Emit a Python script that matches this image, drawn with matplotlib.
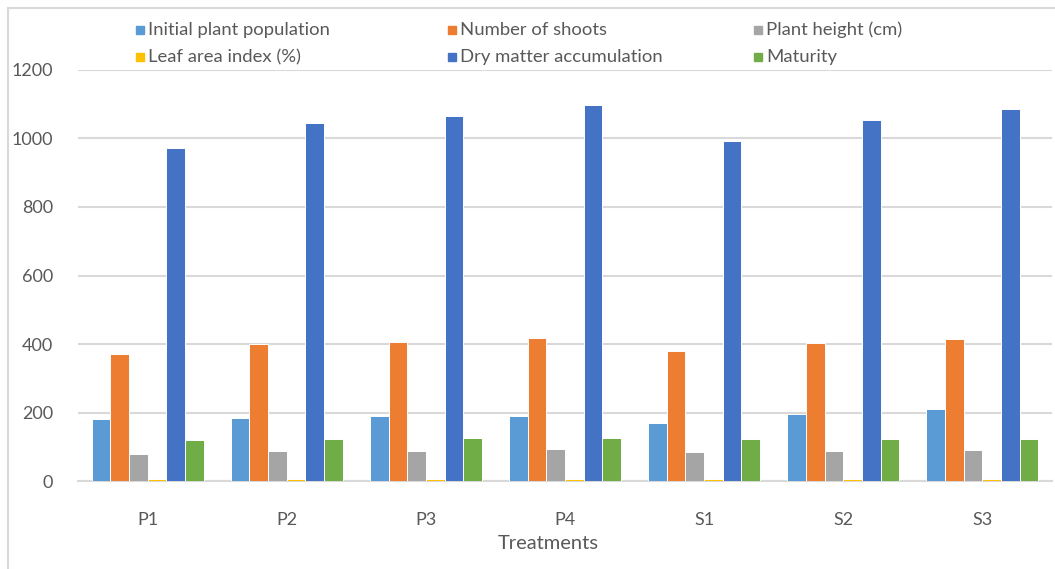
"""Bar chart of growth parameters per treatment."""

import numpy as np
import matplotlib.pyplot as plt
from matplotlib.patches import Rectangle

treatments = ["P1", "P2", "P3", "P4", "S1", "S2", "S3"]

initial_plant_population = [182, 186, 190, 190, 171, 195, 210]
number_of_shoots = [371, 399, 406, 418, 379, 403, 414]
plant_height = [81, 87, 89, 93, 84, 87, 90]
leaf_area_index = [6.2, 6.5, 6.6, 6.8, 6.3, 6.6, 6.7]
dry_matter = [972, 1044, 1065, 1097, 991, 1053, 1085]
maturity = [119, 123, 125, 126, 123, 123, 123]

series_names = [
    "Initial plant population",
    "Number of shoots",
    "Plant height (cm)",
    "Leaf area index (%)",
    "Dry matter accumulation",
    "Maturity",
]
series = [initial_plant_population, number_of_shoots, plant_height,
          leaf_area_index, dry_matter, maturity]
colors = ["#5B9BD5", "#ED7D31", "#A5A5A5", "#FFC000", "#4472C4", "#70AD47"]

FONT = "Lato"
TEXT = "#595959"

W, H = 1055, 569
fig = plt.figure(figsize=(W / 100, H / 100), dpi=100)
ax = fig.add_axes([78 / W, 1 - 481.3 / H, (1052 - 78) / W, (481.3 - 69.7) / H])

x = np.arange(len(treatments))
step = 0.134
for i, (name, vals, c) in enumerate(zip(series_names, series, colors)):
    offset = (i - 2.5) * step
    ax.bar(x + offset, vals, width=step, color=c, edgecolor="white",
           linewidth=0.7, label=name, zorder=3)

ax.set_xlim(-0.5, len(treatments) - 0.5)
ax.set_ylim(0, 1200)
ax.set_yticks(range(0, 1201, 200))
ax.set_xticks(x)
ax.set_xticklabels(treatments)
ax.yaxis.grid(True, color="#d9d9d9", linewidth=1.5, zorder=0)
ax.set_axisbelow(True)
for s in ["top", "right", "left"]:
    ax.spines[s].set_visible(False)
ax.spines["bottom"].set_color("#d9d9d9")
ax.spines["bottom"].set_linewidth(1.5)
ax.tick_params(axis="both", length=0, labelsize=13, labelcolor=TEXT)
ax.tick_params(axis="x", pad=22)
ax.tick_params(axis="y", pad=18)
for lab in ax.get_xticklabels() + ax.get_yticklabels():
    lab.set_fontfamily(FONT)
ax.set_xlabel("Treatments", fontsize=14.5, color=TEXT, fontfamily=FONT)
ax.xaxis.set_label_coords((548 - 78) / 974, -0.13)

# legend, laid out like the spreadsheet one: 3 columns x 2 rows
legend_cols = [140, 452, 758]
legend_rows = [30, 57]
for i, (name, c) in enumerate(zip(series_names, colors)):
    lx = legend_cols[i % 3]
    ly = legend_rows[i // 3]
    fig.patches.append(Rectangle(((lx - 4) / W, 1 - (ly + 4) / H), 8 / W, 8 / H,
                                 transform=fig.transFigure, color=c))
    fig.text((lx + 8) / W, 1 - ly / H, name, fontsize=13.3, color=TEXT,
             fontfamily=FONT, va="center", ha="left")

# chart frame
fig.patches.append(Rectangle((8 / W, -0.01), 1.1, 1 - 8 / H + 0.01,
                             transform=fig.transFigure, fill=False,
                             edgecolor="#d9d9d9", linewidth=1.5))

fig.savefig("out.png", dpi=100)
